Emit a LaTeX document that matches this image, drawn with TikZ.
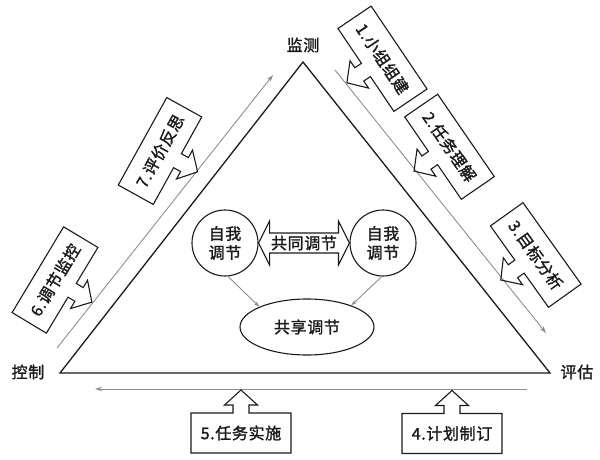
\documentclass[tikz,border=0pt]{standalone}
\usepackage{fontspec}
\setmainfont{Noto Sans CJK SC}[BoldFont=Noto Sans CJK SC,BoldFeatures={FakeBold=1.6},LetterSpace=4]
\usetikzlibrary{arrows.meta,positioning,calc,shapes.geometric}
\definecolor{Ink}{HTML}{1A1A1A}
\definecolor{Guide}{HTML}{8E8E8E}

\begin{document}
\begin{tikzpicture}[x=1pt,y=1pt,
  lbl/.style={font=\bfseries\fontsize{16}{19}\selectfont,text=Ink},
  guide/.style={Guide,line width=0.9pt,-{Stealth[length=7pt,width=4.5pt]}},
  outline/.style={Ink,line width=1.1pt,line join=miter}]
\useasboundingbox (0,0) rectangle (600,459);
% triangle
\coordinate (L) at (60,86); \coordinate (T) at (303,397); \coordinate (R) at (550,86);
\draw[Ink,line width=1.3pt,line join=miter] (L) -- (T) -- (R) -- cycle;
\node[lbl] (jc) at (303,414) {监测};
\node[lbl] (kz) at (28,87) {控制};
\node[lbl] (pg) at (577,87) {评估};
% guide lines round the triangle
\coordinate (gl1) at (57,111); \coordinate (gl2) at (273,384);
\coordinate (gr1) at (335,389); \coordinate (gr2) at (546,126);
\coordinate (gb1) at (527,70); \coordinate (gb2) at (95,70);
\draw[guide] (gl1) -- (gl2);
\draw[guide] (gr1) -- (gr2);
\draw[guide] (gb1) -- (gb2);
% step callouts
\foreach \x/\y/\a/\f/\n/\t in {382.5/400.25/-56/-1/1/1.小组组建,449.5/312.25/-55.5/-1/2/2.任务理解,535.75/204/-54.5/-1/3/3.目标分析,452/25.5/0/1/4/4.计划制订,241/26/0/1/5/5.任务实施,55/179/59/-1/6/6.调节监控,160/308/61/-1/7/7.评价反思} {
\begin{scope}[shift={(\x,\y)},rotate=\a]
\draw[outline,yscale=\f] (-50,-20) -- (50,-20) -- (50,20) -- (8,20) -- (8,28) -- (16.5,28) -- (0,43) -- (-16.5,28) -- (-8,28) -- (-8,20) -- (-50,20) -- cycle;
\node[lbl,rotate=\a] (t\n) at (0,0) {\t};
\end{scope}}
% regulation in the middle
\node[lbl,draw=Ink,line width=1.1pt,circle,minimum size=66pt,inner sep=0pt,align=center] (c1) at (225,216) {自我\\调节};
\node[lbl,draw=Ink,line width=1.1pt,circle,minimum size=66pt,inner sep=0pt,align=center] (c2) at (383,216) {自我\\调节};
\draw[outline] (c1.east) -- ++(11,22) -- ++(0,-12) -- ($(c2.west)+(-11,10)$) -- ++(0,12) -- (c2.west) -- ++(-11,-22) -- ++(0,12) -- ($(c1.east)+(11,-10)$) -- ++(0,-12) -- cycle;
\node[lbl] (gt) at ($(c1.east)!0.5!(c2.west)$) {共同调节};
\node[lbl,draw=Ink,line width=1.1pt,ellipse,minimum width=134pt,minimum height=56pt,inner sep=0pt] (sh) at (307,132) {共享调节};
\draw[guide,-{Stealth[length=6pt,width=4pt]}] (c1.-85) -- (sh.157);
\draw[guide,-{Stealth[length=6pt,width=4pt]}] (c2.-92) -- (sh.26);
\end{tikzpicture}
\end{document}
